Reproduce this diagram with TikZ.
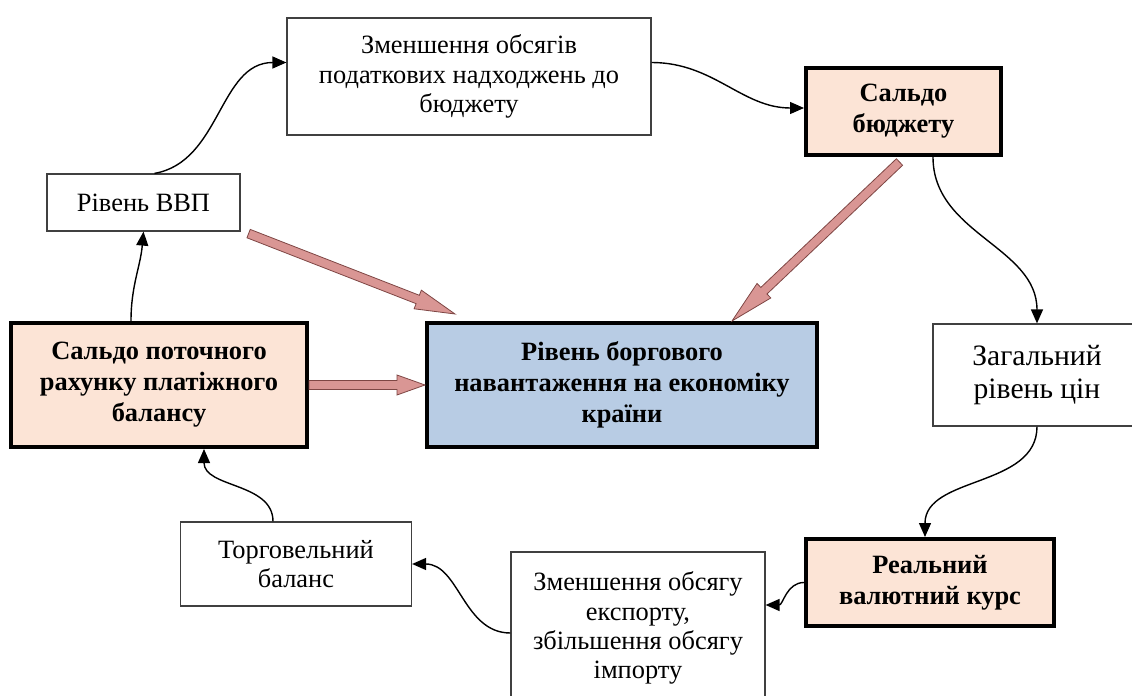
\documentclass[tikz,border=0pt]{standalone}
\usepackage{fontspec}
\setmainfont{Liberation Serif}
\usepackage{xcolor}
\usepackage{tikz}
\usetikzlibrary{arrows.meta,positioning,calc}
\definecolor{peach}{HTML}{FCE4D6}
\definecolor{steel}{HTML}{B8CCE4}
\definecolor{rose}{HTML}{D99694}
\definecolor{roseline}{HTML}{7E4644}

\begin{document}
\begin{tikzpicture}[
x=0.5pt, y=-0.5pt,
box/.style={draw=black!75, line width=0.6pt, align=center, inner sep=2pt, font=\fontsize{13.2}{14.6}\selectfont},
keybox/.style={draw=black, line width=2pt, fill=peach, align=center, inner sep=2pt, font=\fontsize{13.2}{15.5}\selectfont\bfseries},
arr/.style={-{Triangle[length=7pt,width=6pt]}, line width=0.7pt},
fat/.style={fill=rose, draw=roseline, line width=0.4pt}
]
\clip (0,0) rectangle (1132,696);
\node[box, minimum width=182pt, minimum height=58.5pt] (tax) at (469,76.5) {Зменшення обсягів\\податкових надходжень до\\бюджету};
\node[keybox, minimum width=97.5pt, minimum height=43.5pt] (budget) at (903.5,111.5) {Сальдо\\бюджету};
\node[box, minimum width=96.5pt, minimum height=28.5pt] (gdp) at (143.5,202.5) {Рівень ВВП};
\node[keybox, minimum width=148pt, minimum height=62pt] (cur) at (159,385) {Сальдо поточного\\рахунку платіжного\\балансу};
\node[keybox, fill=steel, minimum width=195pt, minimum height=62pt] (debt) at (622,385) {Рівень боргового\\навантаження на економіку\\країни};
\node[box, minimum width=104pt, minimum height=51pt, font=\fontsize{14.8}{16.5}\selectfont] (prices) at (1037,375) {Загальний\\рівень цін};
\node[keybox, minimum width=124pt, minimum height=43.5pt] (exch) at (930,582.5) {Реальний\\валютний курс};
\node[box, minimum width=127pt, minimum height=76pt] (export) at (638,628) {Зменшення обсягу\\експорту,\\збільшення обсягу\\імпорту};
\node[box, minimum width=115.5pt, minimum height=42pt] (trade) at (296,564) {Торговельний\\баланс};

\draw[arr] ([xshift=-14pt]cur.north) to[out=90,in=-95] (gdp.south);
\draw[arr] ([xshift=5.5pt]gdp.north) to[out=10,in=180] ([yshift=7pt]tax.west);
\draw[arr] ([yshift=7pt]tax.east) to[out=0,in=180] ([yshift=1.75pt]budget.west);
\draw[arr] ([xshift=14.75pt]budget.south) to[out=-90,in=90] (prices.north);
\draw[arr] (prices.south) to[out=-90,in=90] ([xshift=-2.5pt]exch.north);
\draw[arr] (exch.west) to[out=180,in=0] ([yshift=11.5pt]export.east);
\draw[arr] ([yshift=-2.5pt]export.west) to[out=180,in=0] (trade.east);
\draw[arr] ([xshift=-11.5pt]trade.north) to[out=90,in=-90] ([xshift=22.5pt]cur.south);

% wide arrows into the debt box
\coordinate (gdpout) at ([xshift=4pt,yshift=-1pt]gdp.south east);
\coordinate (debtin1) at ([xshift=15pt,yshift=3.5pt]debt.north west);
\coordinate (budout) at ([xshift=-2pt,yshift=-2.5pt]budget.south);
\coordinate (debtin2) at ([xshift=55pt]debt.north);
\foreach \a/\b/\h in {gdpout/debtin1/20pt, budout/debtin2/22pt, cur.east/debt.west/14pt}
  \filldraw[fat] ($(\a)!2.25pt!90:(\b)$) -- ($(\b)!\h!(\a)!2.25pt!-90:(\a)$) -- ($(\b)!\h!(\a)!5pt!-90:(\a)$)
    -- (\b) -- ($(\b)!\h!(\a)!5pt!90:(\a)$) -- ($(\b)!\h!(\a)!2.25pt!90:(\a)$) -- ($(\a)!2.25pt!-90:(\b)$) -- cycle;
\end{tikzpicture}
\end{document}
